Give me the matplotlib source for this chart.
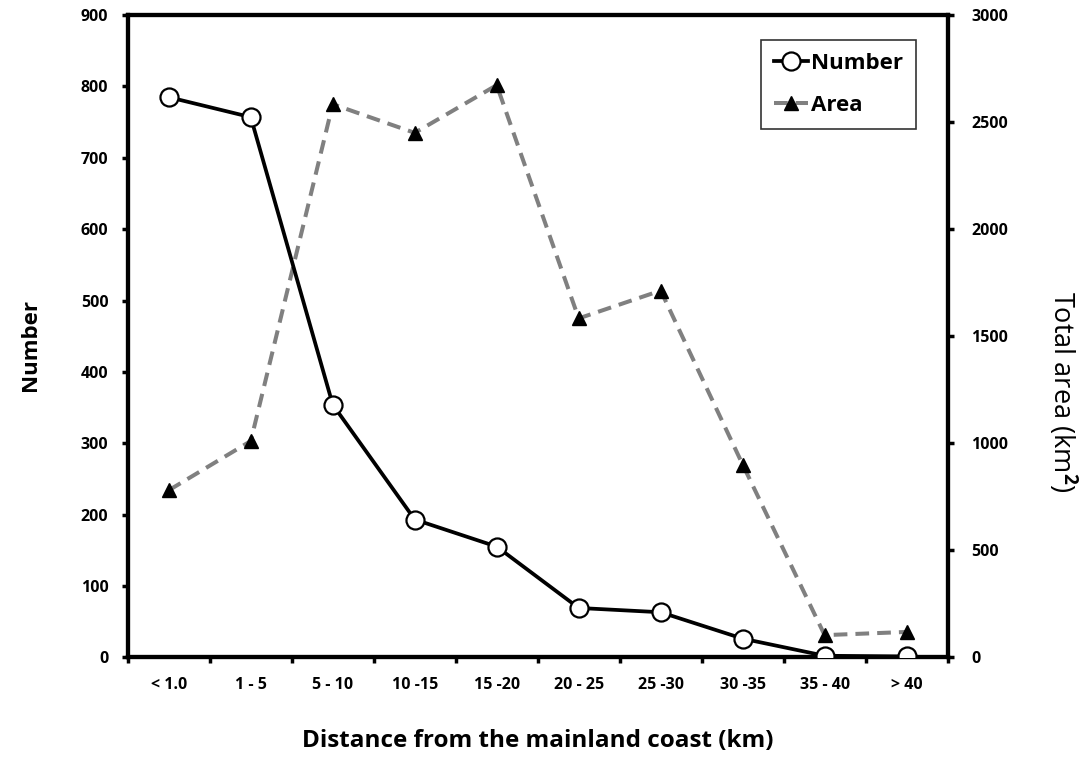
import matplotlib
matplotlib.use("Agg")
from matplotlib import pyplot as plt

# Data
categories = ["< 1.0", "1 - 5", "5 - 10", "10 -15", "15 -20",
              "20 - 25", "25 -30", "30 -35", "35 - 40", "> 40"]
number = [785, 757, 354, 193, 155, 69, 63, 26, 2, 1]
area = [780, 1010, 2584, 2450, 2673, 1583, 1713, 900, 103, 118]

plt.rcParams['font.family'] = ['Open Sans', 'DejaVu Sans']
plt.rcParams['font.weight'] = 'bold'
plt.rcParams['mathtext.fontset'] = 'custom'
plt.rcParams['mathtext.rm'] = 'Open Sans'

fig = plt.figure(figsize=(10.83, 7.58), dpi=100)
ax = fig.add_axes([0.118, 0.133, 0.757, 0.847])
ax2 = ax.twinx()

x = range(len(categories))

# Area series (secondary axis)
l2, = ax2.plot(x, area, color='#808080', linestyle=(0, (3.4, 2.0)),
               linewidth=2.9, marker='^', markersize=10,
               markerfacecolor='black', markeredgecolor='black', label='Area')
# Number series (primary axis)
l1, = ax.plot(x, number, color='black', linewidth=2.7, marker='o',
              markersize=13, markerfacecolor='white',
              markeredgecolor='black', markeredgewidth=1.6, label='Number',
              zorder=3)

ax.set_zorder(ax2.get_zorder() + 1)
ax.patch.set_visible(False)

ax.set_xlim(-0.5, len(categories) - 0.5)
ax.set_ylim(0, 900)
ax2.set_ylim(0, 3000)
ax.set_yticks(range(0, 901, 100))
ax2.set_yticks(range(0, 3001, 500))

# category labels centred, tick marks between categories
ax.set_xticks(list(x))
ax.set_xticklabels(categories)
ax.set_xticks([i + 0.5 for i in range(-1, len(categories))], minor=True)
ax.tick_params(axis='x', which='major', length=0, pad=14, labelsize=11.5)
ax.tick_params(axis='x', which='minor', length=4, width=2.5, direction='out')
ax.tick_params(axis='y', length=4, width=2.5, direction='out', pad=10,
               labelsize=11.5)
ax2.tick_params(axis='y', length=4, width=2.5, direction='out', pad=13,
                labelsize=11.5)

for a in (ax, ax2):
    for s in a.spines.values():
        s.set_linewidth(3)
    for lab in a.get_xticklabels() + a.get_yticklabels():
        lab.set_fontweight('bold')

ax.set_xlabel("Distance from the mainland coast (km)", fontsize=17.5,
              fontweight='bold', labelpad=26)
ax.set_ylabel("Number", fontsize=16, fontweight='bold', va='center')
ax.yaxis.set_label_coords(-0.119, 0.486)
ax2.set_ylabel(r"Total area (km$^{2}$)", fontsize=19.5,
               fontweight='normal', rotation=270, va='center')
ax2.yaxis.set_label_coords(1.14, 0.413)

leg = ax.legend(handles=[l1, l2], loc='upper right',
                bbox_to_anchor=(0.962, 0.962), fontsize=16,
                frameon=True, fancybox=False, handlelength=1.5,
                handletextpad=0.15, borderpad=0.6, labelspacing=0.95,
                borderaxespad=0)
leg.get_frame().set_edgecolor('black')
leg.get_frame().set_linewidth(1.2)
for t in leg.get_texts():
    t.set_fontweight('bold')

fig.savefig("out.png", dpi=100)
